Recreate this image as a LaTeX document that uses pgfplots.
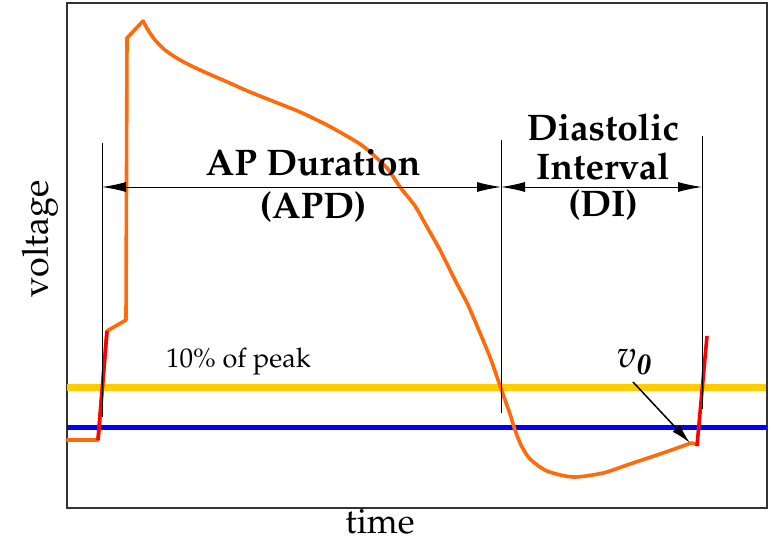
\documentclass[border=0pt]{standalone}
\usepackage[T1]{fontenc}
\usepackage{mathpazo}
\usepackage{amsmath}
\usepackage{pgfplots}
\pgfplotsset{compat=1.18}
\usetikzlibrary{arrows.meta}
\definecolor{apOrange}{HTML}{FF6A0A}
\definecolor{apRed}{HTML}{FF0000}
\definecolor{thrYellow}{HTML}{FFCC00}
\definecolor{thrBlue}{HTML}{0000FF}
\newcommand{\bigbf}{\fontsize{37}{40}\selectfont\bfseries}
\begin{document}
\begin{tikzpicture}
\begin{axis}[
  at={(0pt,0pt)}, anchor=south west,
  scale only axis, width=700pt, height=505pt,
  xmin=0, xmax=700, ymin=0, ymax=505,
  xtick=\empty, ytick=\empty,
  axis line style={line width=1.6pt, black!80},
  clip=false,
]
% threshold lines
\addplot[thrYellow, line width=7pt] coordinates {(0,121) (699,121)};
\addplot[thrBlue, line width=5pt] coordinates {(0,81) (700,81)};

% action potential: resting level, upstroke and notch
\addplot[apOrange, line width=3.6pt, line join=round, line cap=round] coordinates {
  (0,68) (31,68) (40,177) (59,188) (60,470) (76,487)
};
% action potential: repolarisation and diastolic phase
\addplot[apOrange, line width=3.6pt, line join=round, line cap=round, smooth, tension=0.45] coordinates {
  (76,487) (81,478) (88,468)
  (98,458) (113,448) (133,438) (158,427) (183,416) (208,406) (233,396)
  (258,384) (278,373) (293,364) (303,356) (320,340) (333,321) (348,302)
  (360,281) (373,258) (388,228) (401,203) (413,175) (423,151) (430,131)
  (437,111) (443,94) (448,78) (454,63) (463,49) (480,37) (506,31)
  (536,35) (563,44) (596,55) (613,61) (625,65) (630,63)
};
% upstrokes
\addplot[apRed, line width=3.6pt] coordinates {(31,68) (40,177)};
\addplot[apRed, line width=3.6pt] coordinates {(630,62) (640,172)};

% interval markers
\addplot[black, line width=0.8pt] coordinates {(35,365) (35,91)};
\addplot[black, line width=0.8pt] coordinates {(434,368) (434,95)};
\addplot[black, line width=0.8pt] coordinates {(635,372) (635,99)};

\addplot[black, line width=1pt, {Latex[length=24pt,width=10pt]}-{Latex[length=24pt,width=10pt]}]
  coordinates {(35,321) (434,321)};
\addplot[black, line width=1pt, {Latex[length=24pt,width=10pt]}-{Latex[length=24pt,width=10pt]}]
  coordinates {(434,321) (635,321)};
\addplot[black, line width=1.5pt, -{Latex[length=20pt,width=10pt]}]
  coordinates {(566,126) (623,65)};

% labels
\node[font=\bigbf] at (axis cs:246,345) {AP Duration};
\node[font=\bigbf] at (axis cs:246,301) {(APD)};
\node[font=\bigbf] at (axis cs:536,381) {Diastolic};
\node[font=\bigbf] at (axis cs:536,342) {Interval};
\node[font=\bigbf] at (axis cs:536,303) {(DI)};
\node[font=\fontsize{27}{29}\selectfont, anchor=west, inner sep=0pt] at (axis cs:99,146) {10\% of peak};
\node[font=\fontsize{38}{40}\selectfont] at (axis cs:567,146) {$v_{\text{\bfseries\itshape 0}}$};
\node[font=\fontsize{36}{38}\selectfont, rotate=90] at (axis cs:-27,269) {voltage};
\node[font=\fontsize{35}{37}\selectfont, inner sep=0pt] at (axis cs:313,-14) {time};
\end{axis}
\pgfresetboundingbox
\path[use as bounding box] (-67pt,-34pt) rectangle (704pt,508pt);
\end{tikzpicture}
\end{document}
